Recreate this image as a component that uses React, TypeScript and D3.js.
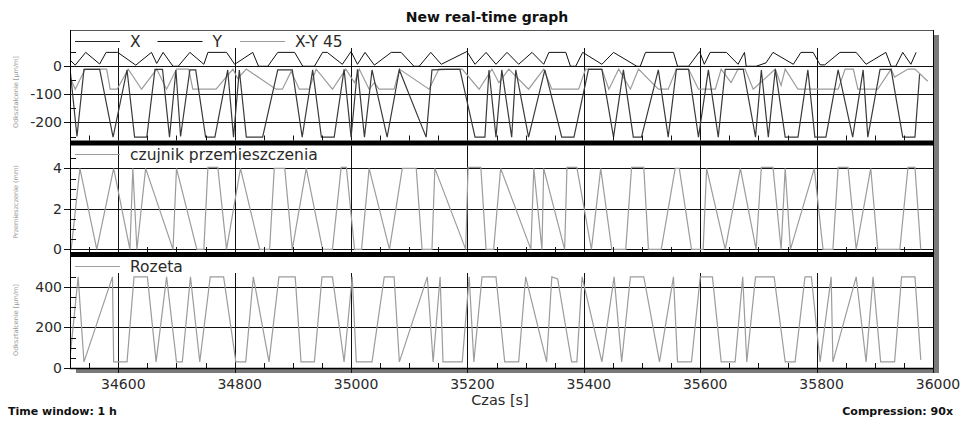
import React from "react";
import * as d3 from "d3";

type Pt = [number, number];

// Time axis (seconds)
const timeDomain: [number, number] = [34517, 36000];
const timeTicks = [34600, 34800, 35000, 35200, 35400, 35600, 35800, 36000];

// Y ticks per panel
const strainTicks = [-200, -100, 0];
const dispTicks = [0, 2, 4];
const rosetteTicks = [0, 200, 400];

// Strain, channel X [µm/m]
const strainX: Pt[] = [
  [34517, 20], [34526, 2], [34544, 47], [34568, 6], [34579, 47], [34599, 47], [34630, 2],
  [34657, 47], [34666, 8], [34677, 47], [34694, -2], [34703, -2], [34723, 47], [34747, 5],
  [34754, 47], [34786, 47], [34800, 5], [34831, 47], [34841, -2], [34857, -2], [34874, 47],
  [34903, 47], [34917, -2], [34937, -2], [34951, 47], [34959, 47], [34985, 5], [35000, 50],
  [35011, 5], [35024, 47], [35040, 2], [35069, 47], [35086, 47], [35108, -2], [35117, -2],
  [35137, 47], [35155, 5], [35199, 50], [35213, 5], [35232, 47], [35249, 5], [35268, 47],
  [35288, 5], [35311, 47], [35331, 5], [35340, 47], [35369, 47], [35377, -2], [35386, -2],
  [35398, 47], [35431, 5], [35451, 47], [35491, -2], [35497, -2], [35506, 47], [35554, 47],
  [35561, -2], [35580, -2], [35599, 50], [35607, 5], [35617, 47], [35645, 47], [35665, 5],
  [35676, 47], [35679, -2], [35696, -2], [35713, 10], [35725, 47], [35760, 5], [35773, 47],
  [35794, 47], [35806, 3], [35814, 3], [35840, 47], [35868, 47], [35885, 5], [35919, 47],
  [35928, -2], [35936, -2], [35948, 47], [35962, 5], [35971, 47],
];

// Strain, channel Y [µm/m]
const strainY: Pt[] = [
  [34517, -10], [34529, -250], [34541, -13], [34568, -13], [34591, -252], [34615, -15],
  [34628, -252], [34649, -252], [34663, -13], [34676, -13], [34688, -252], [34699, -15],
  [34707, -250], [34723, -15], [34733, -15], [34750, -252], [34766, -252], [34788, -15],
  [34798, -252], [34808, -15], [34820, -252], [34848, -252], [34874, -15], [34899, -15],
  [34916, -252], [34934, -15], [34949, -252], [34971, -252], [34988, -13], [35000, -252],
  [35011, -13], [35023, -252], [35036, -15], [35062, -252], [35083, -15], [35129, -252],
  [35139, -15], [35163, -13], [35187, -13], [35213, -252], [35230, -252], [35237, -15],
  [35249, -252], [35259, -15], [35276, -252], [35283, -15], [35305, -252], [35333, -15],
  [35362, -252], [35383, -252], [35408, -13], [35431, -13], [35451, -252], [35468, -15],
  [35485, -252], [35499, -252], [35528, -15], [35545, -252], [35559, -13], [35580, -13],
  [35597, -252], [35614, -15], [35631, -252], [35643, -13], [35674, -13], [35695, -252],
  [35705, -15], [35717, -252], [35729, -13], [35746, -252], [35768, -252], [35785, -15],
  [35797, -252], [35816, -252], [35837, -15], [35862, -252], [35880, -15], [35888, -252],
  [35909, -13], [35928, -13], [35948, -252], [35969, -252], [35977, -30],
];

// Strain, X-Y 45° channel [µm/m]
const strainXY45: Pt[] = [
  [34517, -40], [34526, -83], [34543, -12], [34580, -12], [34586, -83], [34598, -83],
  [34617, -12], [34640, -83], [34666, -12], [34683, -83], [34700, -12], [34721, -12],
  [34728, -83], [34768, -83], [34797, -12], [34805, -45], [34820, -12], [34871, -83],
  [34882, -83], [34897, -20], [34911, -83], [34928, -83], [34940, -12], [34968, -83],
  [34991, -12], [35006, -60], [35014, -12], [35031, -83], [35040, -60], [35048, -83],
  [35074, -83], [35083, -12], [35134, -83], [35151, -12], [35191, -12], [35220, -83],
  [35242, -12], [35254, -60], [35271, -12], [35305, -83], [35331, -12], [35345, -83],
  [35391, -83], [35403, -12], [35431, -12], [35443, -83], [35460, -12], [35480, -83],
  [35494, -12], [35528, -83], [35545, -83], [35559, -12], [35580, -12], [35597, -83],
  [35626, -83], [35636, -12], [35653, -60], [35665, -12], [35677, -12], [35691, -83],
  [35729, -12], [35739, -70], [35746, -12], [35768, -83], [35837, -83], [35849, -12],
  [35863, -12], [35871, -83], [35905, -83], [35928, -12], [35934, -40], [35957, -12],
  [35969, -12], [35991, -55],
];

// Displacement sensor [mm]
const displacement: Pt[] = [
  [34519, 0], [34534, 4], [34563, 0], [34592, 4], [34620, 0], [34625, 4], [34632, 0],
  [34647, 4], [34694, 0], [34700, 4], [34735, 0], [34747, 0], [34754, 4.05], [34771, 4.05],
  [34786, 0], [34810, 4], [34843, 0], [34860, 0], [34868, 4], [34886, 4], [34899, 0],
  [34923, 4], [34951, 0], [34968, 0], [34983, 4.05], [34992, 4.05], [35006, 0], [35018, 0],
  [35031, 4], [35066, 0], [35088, 4], [35112, 4], [35122, 0], [35139, 0], [35144, 4],
  [35197, 0], [35201, 4.05], [35223, 4.05], [35232, 0], [35245, 0], [35257, 4], [35309, 0],
  [35314, 4], [35328, 0], [35331, 4], [35367, 0], [35371, 4.05], [35388, 4.05], [35413, 0],
  [35429, 4], [35448, 0], [35472, 0], [35482, 4.05], [35503, 4.05], [35511, 0], [35533, 0],
  [35557, 4], [35564, 4], [35585, 0], [35605, 0], [35611, 4], [35643, 0], [35669, 4],
  [35696, 0], [35705, 4.05], [35725, 4.05], [35739, 0], [35746, 4], [35755, 0], [35796, 4],
  [35811, 0], [35828, 0], [35837, 4.05], [35854, 4.05], [35868, 0], [35893, 4], [35905, 0],
  [35943, 0], [35957, 4.05], [35969, 4.05], [35979, 0],
];

// Rosette strain [µm/m]
const rosette: Pt[] = [
  [34517, 50], [34531, 450], [34541, 30], [34590, 450], [34592, 30], [34615, 30],
  [34627, 450], [34650, 450], [34665, 30], [34683, 450], [34700, 30], [34710, 30],
  [34724, 450], [34740, 30], [34758, 450], [34781, 450], [34802, 30], [34819, 30],
  [34832, 450], [34859, 30], [34876, 450], [34904, 450], [34914, 30], [34937, 30],
  [34950, 450], [34968, 450], [34988, 30], [35002, 450], [35009, 30], [35036, 30],
  [35057, 450], [35074, 450], [35083, 30], [35131, 450], [35141, 30], [35153, 450],
  [35158, 30], [35191, 30], [35203, 450], [35211, 30], [35225, 450], [35249, 450],
  [35264, 30], [35288, 30], [35300, 450], [35336, 30], [35345, 450], [35355, 440],
  [35379, 30], [35388, 30], [35397, 450], [35431, 30], [35452, 450], [35465, 30],
  [35480, 450], [35503, 450], [35530, 30], [35554, 450], [35561, 30], [35585, 30],
  [35600, 450], [35621, 450], [35636, 30], [35660, 30], [35673, 450], [35680, 30],
  [35695, 450], [35727, 450], [35746, 30], [35763, 30], [35780, 450], [35791, 450],
  [35806, 30], [35825, 450], [35828, 30], [35868, 450], [35885, 30], [35897, 450],
  [35910, 30], [35934, 30], [35946, 450], [35969, 450], [35979, 40],
];

const FONT = "DejaVu Sans, Verdana, sans-serif";
const W = 962;
const H = 424;
const LEFT = 70;
const RIGHT = 933;

type Series = { data: Pt[]; label: string; color: string; width: number; legendColor: string };

type Panel = {
  top: number;
  bottom: number;
  domain: [number, number];
  ticks: number[];
  minor: number[];
  title: string;
  titleY: number;
  gridTop: number;
  series: Series[];
  legendY: number;
};

const panels: Panel[] = [
  {
    top: 30,
    bottom: 140.5,
    domain: [-264, 126],
    ticks: strainTicks,
    minor: [-250, -150, -50, 50],
    title: "Odkształcenie [µm/m]",
    titleY: 92,
    gridTop: 18,
    legendY: 41,
    series: [
      { data: strainX, label: "X", color: "#111", width: 1, legendColor: "#222" },
      { data: strainY, label: "Y", color: "#3a3a3a", width: 1.2, legendColor: "#111" },
      { data: strainXY45, label: "X-Y 45", color: "#9c9c9c", width: 1.2, legendColor: "#9c9c9c" },
    ],
  },
  {
    top: 145.5,
    bottom: 252,
    domain: [-0.13, 5.13],
    ticks: dispTicks,
    minor: [0.5, 1, 1.5, 2.5, 3, 3.5, 4.5],
    title: "Przemieszczenie (mm)",
    titleY: 202,
    gridTop: 0,
    legendY: 154,
    series: [
      { data: displacement, label: "czujnik przemieszczenia", color: "#9c9c9c", width: 1.2, legendColor: "#9c9c9c" },
    ],
  },
  {
    top: 257,
    bottom: 368,
    domain: [0, 548],
    ticks: rosetteTicks,
    minor: [50, 100, 150, 250, 300, 350, 450],
    title: "Odkształcenie [µm/m]",
    titleY: 320,
    gridTop: 16,
    legendY: 266,
    series: [{ data: rosette, label: "Rozeta", color: "#9c9c9c", width: 1.2, legendColor: "#a0a0a0" }],
  },
];

const x = d3.scaleLinear().domain(timeDomain).range([LEFT, RIGHT]);
const minorTimeTicks = d3.range(34550, 36000, 50).filter((t) => t % 200 !== 0);

function PanelView({ p, i }: { p: Panel; i: number }) {
  const y = d3.scaleLinear().domain(p.domain).range([p.bottom, p.top]);
  const line = d3
    .line<Pt>()
    .x((d) => x(d[0]))
    .y((d) => y(d[1]));
  const clipId = `clip-${i}`;
  return (
    <g>
      <defs>
        <clipPath id={clipId}>
          <rect x={LEFT} y={p.top} width={RIGHT - LEFT} height={p.bottom - p.top} />
        </clipPath>
      </defs>
      {/* horizontal grid */}
      {p.ticks.map((t) => (
        <line key={`h${t}`} x1={LEFT} x2={RIGHT} y1={Math.round(y(t)) + 0.5} y2={Math.round(y(t)) + 0.5} stroke="#111" strokeWidth={1} />
      ))}
      {/* vertical grid */}
      {timeTicks.slice(0, -1).map((t) => (
        <line key={`v${t}`} x1={Math.round(x(t)) + 0.5} x2={Math.round(x(t)) + 0.5} y1={p.top + p.gridTop} y2={p.bottom} stroke="#111" strokeWidth={1} />
      ))}
      {/* series */}
      <g clipPath={`url(#${clipId})`}>
        {p.series
          .slice()
          .reverse()
          .map((s) => (
            <path key={s.label} d={line(s.data) || ""} fill="none" stroke={s.color} strokeWidth={s.width} strokeLinejoin="miter" />
          ))}
      </g>
      {/* minor y ticks (inside) */}
      {p.minor.map((t) => (
        <line key={`m${t}`} x1={LEFT} x2={LEFT + 6} y1={Math.round(y(t)) + 0.5} y2={Math.round(y(t)) + 0.5} stroke="#111" />
      ))}
      {/* minor x ticks (inside, bottom) */}
      {minorTimeTicks.map((t) => (
        <line key={`mx${t}`} x1={Math.round(x(t)) + 0.5} x2={Math.round(x(t)) + 0.5} y1={p.bottom - 5} y2={p.bottom} stroke="#111" />
      ))}
      {/* major y ticks and labels */}
      {p.ticks.map((t) => (
        <g key={`yt${t}`}>
          <line x1={LEFT - 6} x2={LEFT} y1={Math.round(y(t)) + 0.5} y2={Math.round(y(t)) + 0.5} stroke="#111" />
          <text x={62} y={y(t) + 5} textAnchor="end" fontFamily={FONT} fontSize={14} fill="#2a2a2a">
            {t}
          </text>
        </g>
      ))}
      {/* axis title */}
      <text
        transform={`translate(18,${p.titleY}) rotate(-90)`}
        textAnchor="middle"
        fontFamily={FONT}
        fontSize={6.5}
        fill="#9a9a9a"
      >
        {p.title}
      </text>
      {/* legend */}
      {p.series.map((s, k) => {
        const lx = 75 + k * 82.5;
        return (
          <g key={`lg${s.label}`}>
            <line x1={lx} x2={lx + 45} y1={p.legendY + 0.5} y2={p.legendY + 0.5} stroke={s.legendColor} strokeWidth={1.2} />
            <text x={lx + 55} y={p.legendY + 5.5} fontFamily={FONT} fontSize={15.5} fill="#2a2a2a">
              {s.label}
            </text>
          </g>
        );
      })}
    </g>
  );
}

export default function App() {
  return (
    <svg
      width={W}
      height={H}
      viewBox={`0 0 ${W} ${H}`}
      style={{ position: "absolute", left: 0, top: 0, background: "#fff" }}
    >
      <rect x={0} y={0} width={W} height={H} fill="#fff" />
      <text x={487} y={22} textAnchor="middle" fontFamily={FONT} fontWeight="bold" fontSize={14} fill="#111">
        New real-time graph
      </text>
      {/* drop shadow and plot background */}
      <rect x={LEFT + 6} y={35} width={RIGHT - LEFT} height={368 - 30} fill="#7a7a7a" />
      <rect x={LEFT} y={30} width={RIGHT - LEFT} height={368 - 30} fill="#fff" />
      {panels.map((p, i) => (
        <PanelView key={i} p={p} i={i} />
      ))}
      {/* separators between panels */}
      <rect x={LEFT} y={140.5} width={RIGHT - LEFT + 1} height={5} fill="#000" />
      <rect x={LEFT} y={252} width={RIGHT - LEFT + 1} height={5} fill="#000" />
      {/* frame */}
      <line x1={LEFT} x2={RIGHT} y1={30.5} y2={30.5} stroke="#555" />
      <line x1={LEFT + 0.5} x2={LEFT + 0.5} y1={30} y2={369} stroke="#000" />
      <line x1={RIGHT + 0.5} x2={RIGHT + 0.5} y1={30} y2={369} stroke="#000" />
      <line x1={LEFT} x2={RIGHT + 1} y1={368.5} y2={368.5} stroke="#000" strokeWidth={1.5} />
      {/* time axis */}
      {timeTicks.map((t) => (
        <g key={`xt${t}`}>
          <line x1={Math.round(x(t)) + 0.5} x2={Math.round(x(t)) + 0.5} y1={368} y2={373} stroke="#111" />
          <text x={x(t) + 5} y={389} textAnchor="middle" fontFamily={FONT} fontSize={14} fill="#2a2a2a">
            {t}
          </text>
        </g>
      ))}
      <text x={500} y={405} textAnchor="middle" fontFamily={FONT} fontSize={14.5} fill="#2a2a2a">
        Czas [s]
      </text>
      <text x={8} y={415} fontFamily={FONT} fontWeight="bold" fontSize={11} fill="#111">
        Time window: 1 h
      </text>
      <text x={953} y={415} textAnchor="end" fontFamily={FONT} fontWeight="bold" fontSize={11} fill="#111">
        Compression: 90x
      </text>
    </svg>
  );
}
